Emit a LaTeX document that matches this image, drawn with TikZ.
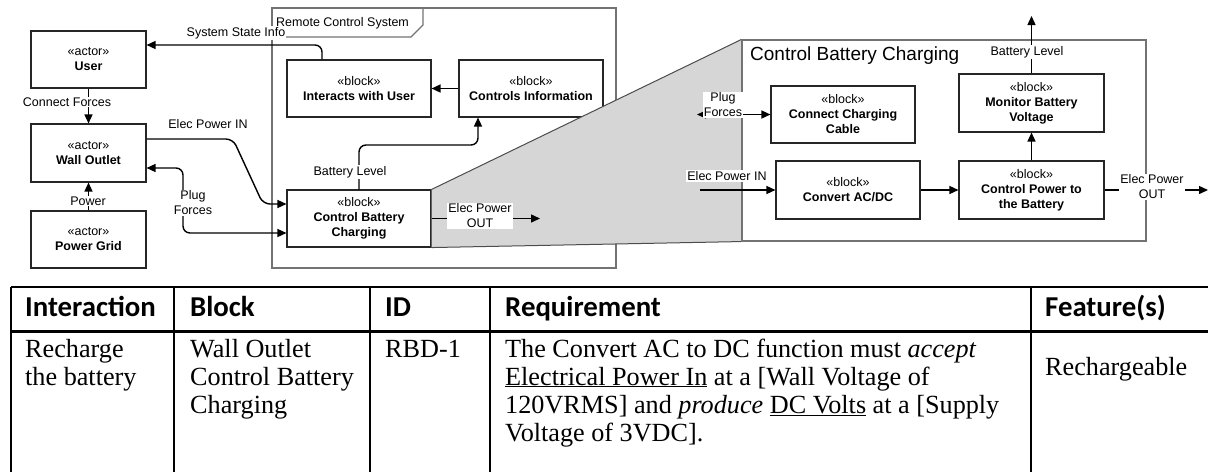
\documentclass[tikz,border=0pt]{standalone}
\usepackage{fontspec}
\setmainfont{Liberation Serif}
\setsansfont{Liberation Sans}
\newfontfamily\hdrfont{Carlito}
\usetikzlibrary{arrows.meta}
\newcommand\diagfont{\sffamily\fontsize{12.5}{15}\selectfont}
\newcommand\titlefont{\sffamily\fontsize{19}{22}\selectfont}
\newcommand\headfont{\hdrfont\bfseries\fontsize{28.8}{32}\selectfont}
\newcommand\cellfont{\rmfamily\fontsize{26.2}{30}\selectfont}
\begin{document}
\begin{tikzpicture}[x=1pt,y=-1pt,
  blk/.style={draw=black!85, line width=1.1pt, fill=white, align=center,
    font=\diagfont, inner sep=0pt},
  frm/.style={draw=black!55, line width=1.1pt},
  lbl/.style={fill=white, inner sep=1pt, font=\diagfont, align=center},
  tip/.tip={Triangle[length=9pt,width=8pt]},
  conn/.style={line width=1.4pt, -tip},
  conn2/.style={line width=1.4pt, tip-tip},
  cell/.style={anchor=base west, inner sep=0pt, font=\cellfont},
  head/.style={anchor=base west, inner sep=0pt, font=\headfont},
  grid/.style={line width=1.8pt}]
\useasboundingbox (0,0) rectangle (1208,472);

% ---------- Remote Control System frame ----------
\draw[frm] (272,8) rectangle (616,268);
\draw[frm] (272,37) -- (411,37) -- (423,25) -- (423,8);
\node[anchor=west, inner sep=0pt, font=\diagfont] (rcs) at (276,23) {Remote Control System};

% ---------- actors ----------
\node[blk, minimum width=115pt, minimum height=57pt] (user) at (88.5,59.5) {«actor»\\\textbf{User}};
\node[blk, minimum width=115pt, minimum height=58pt] (wall) at (88.5,153) {«actor»\\\textbf{Wall Outlet}};
\node[blk, minimum width=115pt, minimum height=57pt] (pgrid) at (88.5,239.5) {«actor»\\\textbf{Power Grid}};

% ---------- system blocks ----------
\node[blk, minimum width=144pt, minimum height=57pt] (ia) at (359,88.5) {«block»\\\textbf{Interacts with User}};
\node[blk, minimum width=144pt, minimum height=57pt] (ci) at (531,88.5) {«block»\\\textbf{Controls Information}};
\node[blk, minimum width=144pt, minimum height=57pt] (cbc) at (359,218.5) {«block»\\\textbf{Control Battery}\\\textbf{Charging}};

% ---------- zoomed view of Control Battery Charging ----------
\node[frm, fill=white, minimum width=404pt, minimum height=201pt, inner sep=0pt] (bb) at (944,140.5) {};
\fill[black!16] (cbc.north east) -- (bb.north west) -- (bb.south west) -- (cbc.south east) -- cycle;
\draw[black!70, line width=1pt] (cbc.north east) -- (bb.north west);
\draw[black!70, line width=1pt] (cbc.south east) -- (bb.south west);
\draw[frm] (bb.north west) -- (bb.south west);
\node[anchor=west, inner sep=0pt, font=\titlefont] (bbt) at (750,56) {Control Battery Charging};

\node[blk, minimum width=144pt, minimum height=57pt] (ccc) at (843,114.5) {«block»\\\textbf{Connect Charging}\\\textbf{Cable}};
\node[blk, minimum width=144pt, minimum height=58pt] (conv) at (848,190) {«block»\\\textbf{Convert AC/DC}};
\node[blk, minimum width=145pt, minimum height=58pt] (cp) at (1031.5,190) {«block»\\\textbf{Control Power to}\\\textbf{the Battery}};
\node[blk, minimum width=145pt, minimum height=58pt] (mon) at (1031.5,103) {«block»\\\textbf{Monitor Battery}\\\textbf{Voltage}};

% ---------- free ends and bends ----------
\coordinate (ep1) at (233,139);
\coordinate (ep2) at (263,204);
\coordinate (pfx) at (183,200);
\coordinate (blx) at (420,145);
\coordinate (epo1) at (540,218.5);
\coordinate (pf2) at (697,114.5);
\coordinate (epi2) at (700,190);
\coordinate (bl2) at (1031.5,16);
\coordinate (epo2) at (1208,190);

% ---------- connectors ----------
\draw[conn, rounded corners=7pt] ([xshift=-37pt]ia.north) |- ([yshift=14.5pt]user.east);
\draw[conn] (user.south) -- (wall.north);
\draw[conn] (pgrid.north) -- (wall.south);
\draw[conn, rounded corners=7pt] ([yshift=14pt]wall.east) -- (ep1) -- (ep2) -- ([yshift=14.5pt]cbc.west);
\draw[conn2, rounded corners=7pt] ([yshift=-15pt]wall.east) -| (pfx) |- ([yshift=-14.5pt]cbc.west);
\draw[conn, rounded corners=7pt] (cbc.north) |- (blx) -| ([xshift=-53pt]ci.south);
\draw[conn] (ci.west) -- (ia.east);
\draw[conn] (cbc.east) -- (epo1);

\draw[conn2] (pf2) -- (ccc.west);
\draw[conn] (epi2) -- (conv.west);
\draw[conn] (conv.east) -- (cp.west);
\draw[conn] (cp.north) -- (mon.south);
\draw[conn] (mon.north) -- (bl2);
\draw[conn] (cp.east) -- (epo2);

% ---------- connector labels ----------
\node[lbl] (l1) at (236,33) {System State Info};
\node[lbl] (l2) at (67,102) {Connect Forces};
\node[lbl] (l3) at (88,201) {Power};
\node[lbl] (l4) at (208,124) {Elec Power IN};
\node[lbl] (l5) at (193,203) {Plug\\Forces};
\node[lbl] (l6) at (350,172) {Battery Level};
\node[lbl] (l7) at (480,216) {Elec Power\\OUT};
\node[lbl] (l8) at (723,105) {Plug\\Forces};
\node[lbl] (l9) at (727,176) {Elec Power IN};
\node[lbl] (l10) at (1027,52) {Battery Level};
\node[lbl] (l11) at (1152,187) {Elec Power\\OUT};

% ---------- requirements table ----------
\draw[grid] (11,287) -- (1208,287);
\draw[line width=3pt] (11,331) -- (1208,331);
\foreach \cx in {11,174,370,490,1031}
  \draw[grid] (\cx,287) -- (\cx,472);

\node[head] (h1) at (25,316) {Interaction};
\node[head] (h2) at (190,316) {Block};
\node[head] (h3) at (385,316) {ID};
\node[head] (h4) at (505,316) {Requirement};
\node[head] (h5) at (1045,316) {Feature(s)};

\node[cell] (a1) at (25,357) {Recharge};
\node[cell] (a2) at (25,385) {the battery};
\node[cell] (b1) at (190,357) {Wall Outlet};
\node[cell] (b2) at (190,385) {Control Battery};
\node[cell] (b3) at (190,413) {Charging};
\node[cell] (c1) at (385,357) {RBD-1};
\node[cell] (r1) at (505,357) {The Convert AC to DC function must \textit{accept}};
\node[cell] (r2) at (505,385) {\underline{Electrical Power In} at a [Wall Voltage of};
\node[cell] (r3) at (505,413) {120VRMS] and \textit{produce} \underline{DC Volts} at a [Supply};
\node[cell] (r4) at (505,441) {Voltage of 3VDC].};
\node[cell] (f1) at (1045,375) {Rechargeable};
\end{tikzpicture}
\end{document}
